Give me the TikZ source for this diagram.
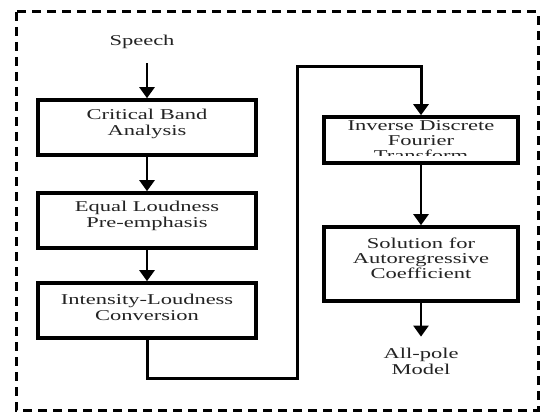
\documentclass[tikz,border=0pt]{standalone}
\usepackage{fontspec}
\setmainfont{Liberation Serif}[FakeStretch=1.5]
\usetikzlibrary{arrows.meta}
\definecolor{txtgray}{RGB}{35,35,35}
\tikzset{
  box/.style={draw=black, line width=3.6pt, rectangle, inner sep=0pt},
  txt/.style={text=txtgray, align=center, inner sep=0pt, font=\fontsize{15}{15.8}\selectfont},
  arr/.style={draw=black, line width=2.4pt, -{Triangle[width=15pt,length=11pt]}},
  route/.style={draw=black, line width=3pt, -{Triangle[width=15pt,length=11pt]}},
  frame/.style={draw=black, line width=3pt, dash pattern=on 9pt off 6pt}
}
\begin{document}
\begin{tikzpicture}[x=1pt, y=-1pt]
\useasboundingbox (0,0) rectangle (540,414);
\fill[white] (0,0) rectangle (540,414);
\draw[frame] (16,12) rectangle (538,410);

% left column boxes
\node[box, minimum width=218pt, minimum height=55pt] (b1) at (147,127.5) {};
\node[box, minimum width=218pt, minimum height=55pt] (b2) at (147,220.5) {};
\node[box, minimum width=218pt, minimum height=55pt] (b3) at (147,310.5) {};
% right column boxes
\node[box, minimum width=194pt, minimum height=46pt] (b4) at (421,140) {};
\node[box, minimum width=194pt, minimum height=74pt] (b5) at (421,264) {};

% texts
\node[txt] (speech) at (142,42) {Speech};
\node[txt] (t1) at (147,124) {Critical Band\\Analysis};
\node[txt] (t2) at (147,215.5) {Equal Loudness\\Pre-emphasis};
\node[txt] (t3) at (147,307) {Intensity-Loudness\\Conversion};
\begin{scope}
  \clip (324,117) rectangle (518,155.5);
  \node[txt, font=\fontsize{15}{15}\selectfont] (t4) at (421,140.5) {Inverse Discrete\\Fourier\\Transform};
\end{scope}
\node[txt, font=\fontsize{15}{15}\selectfont] (t5) at (421,258) {Solution for\\Autoregressive\\Coefficient};
\node[txt] (allpole) at (421,361) {All-pole\\Model};

% connectors
\coordinate (k1) at (297,378);
\coordinate (k2) at (297,67);
\draw[arr, shorten <=14.5pt] (speech.south -| b1.north) -- (b1.north);
\draw[arr] (b1.south) -- (b2.north);
\draw[arr] (b2.south) -- (b3.north);
\draw[route] (b3.south) |- (k1) -- (k2) -| (b4.north);
\draw[arr] (b4.south) -- (b5.north);
\draw[arr, shorten >=11pt] (b5.south) -- (allpole.north);
\end{tikzpicture}
\end{document}
